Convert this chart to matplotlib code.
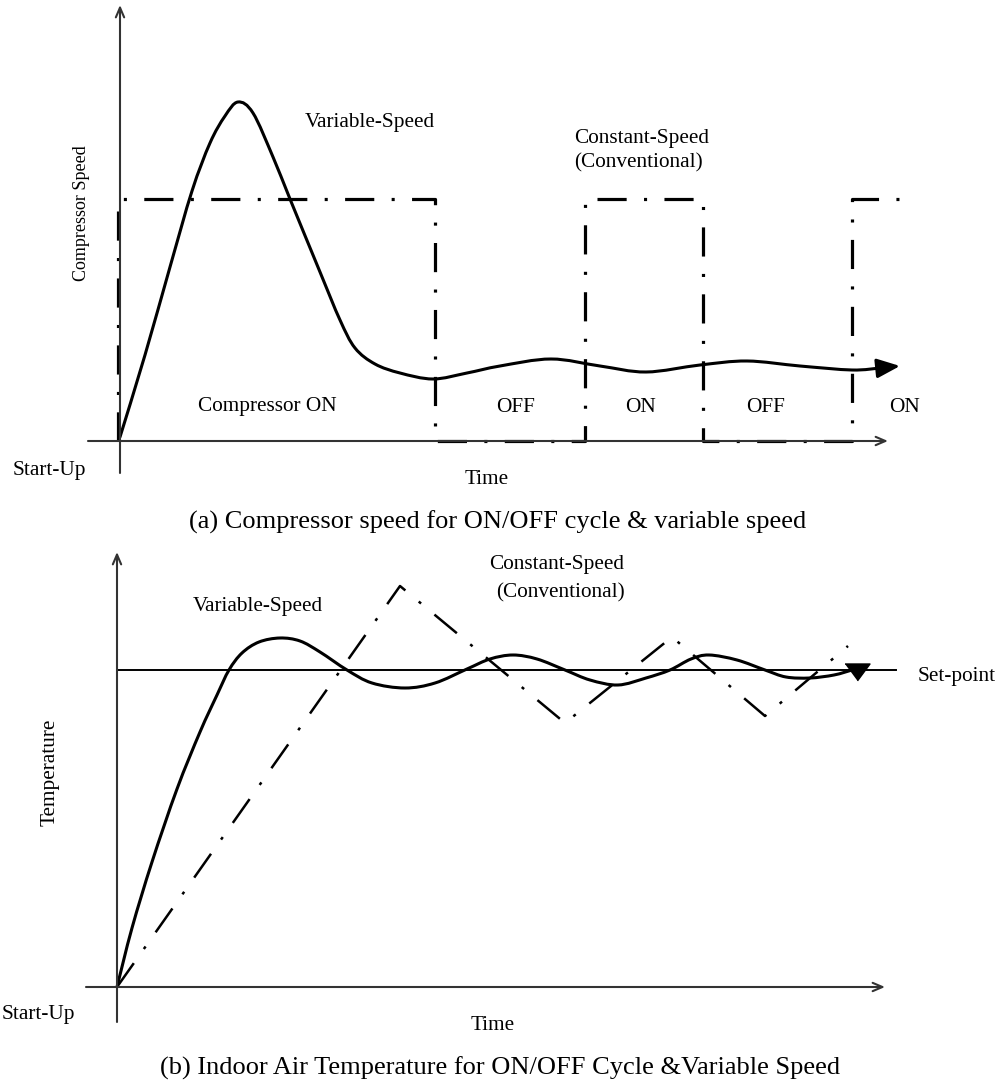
import matplotlib
matplotlib.use('Agg')
import matplotlib.pyplot as plt
from matplotlib.path import Path
from matplotlib.patches import PathPatch

plt.rcParams['font.family'] = ['Liberation Serif', 'DejaVu Serif']
plt.rcParams['lines.scale_dashes'] = False

# ---------------- Panel (a): compressor speed ----------------
# variable-speed compressor (time units, speed units)
var_a_t = [0.0, 2.5, 5.0, 7.2, 9.0, 10.5, 11.8, 13.3, 15.3, 17.0, 20.0, 22.0, 23.5, 25.5,
           28.0, 31.3, 34.7, 38.0, 43.1, 48.0, 52.6, 58.0, 62.7, 68.0, 73.2, 76.0, 78.0]
var_a_v = [0.4, 8.6, 17.4, 25.0, 29.8, 32.5, 33.9, 32.8, 28.4, 24.2, 16.9, 12.1, 9.3, 7.7,
           6.8, 6.2, 6.8, 7.5, 8.2, 7.5, 6.9, 7.6, 8.0, 7.5, 7.1, 7.3, 7.5]
# constant-speed (ON/OFF) compressor
const_a_t = [-0.2, -0.2, 31.5, 31.5, 46.5, 46.5, 58.3, 58.3, 73.2, 73.2, 78.3]
const_a_v = [0.0, 24.2, 24.2, 0.0, 0.0, 24.2, 24.2, 0.0, 0.0, 24.2, 24.2]
state_labels = ['Compressor ON', 'OFF', 'ON', 'OFF', 'ON']
state_t = [14.7, 39.6, 52.0, 64.6, 78.5]

# ---------------- Panel (b): indoor temperature ----------------
var_b_t = [0.0, 1.5, 3.5, 6.0, 8.3, 10.0, 11.2, 12.5, 14.2, 16.3, 18.3, 20.3, 23.0, 25.5,
           28.8, 31.8, 35.0, 37.3, 39.6, 42.0, 44.8, 47.3, 50.1, 52.9, 55.3, 57.4, 59.2,
           62.0, 64.8, 66.9, 69.3, 71.7, 73.5]
var_b_T = [0.0, 5.9, 12.5, 19.8, 25.5, 29.2, 31.7, 33.4, 34.5, 34.9, 34.6, 33.5, 31.7, 30.4,
           29.9, 30.4, 31.8, 32.8, 33.2, 32.8, 31.7, 30.7, 30.2, 30.9, 31.7, 32.8, 33.2,
           32.7, 31.7, 31.0, 30.9, 31.2, 31.7]
var_b_arrow = (74.0, 31.6)
const_b_t = [0.0, 28.3, 44.8, 55.5, 64.8, 73.1]
const_b_T = [0.0, 40.1, 26.4, 35.0, 27.1, 34.1]
setpoint = 31.7
setpoint_end = 77.9

# ---------------- layout ----------------
W, H = 998, 1082
fig = plt.figure(figsize=(W / 100, H / 100), dpi=100)
PX = 10.0  # pixels per data unit


def make_axes(top_px, bot_px, ox, oy):
    ax = fig.add_axes([0, 1 - bot_px / H, 1, (bot_px - top_px) / H])
    ax.set_xlim((0 - ox) / PX, (W - ox) / PX)
    ax.set_ylim((oy - bot_px) / PX, (oy - top_px) / PX)
    ax.axis('off')
    return ax


def smooth_curve(ax, xs, ys, **kw):
    """Draw a smooth curve through the given points (Catmull-Rom as cubic Beziers)."""
    pts = list(zip(xs, ys))
    n = len(pts)
    verts = [pts[0]]
    codes = [Path.MOVETO]
    for i in range(n - 1):
        p0 = pts[max(i - 1, 0)]
        p1 = pts[i]
        p2 = pts[i + 1]
        p3 = pts[min(i + 2, n - 1)]
        c1 = (p1[0] + (p2[0] - p0[0]) / 6.0, p1[1] + (p2[1] - p0[1]) / 6.0)
        c2 = (p2[0] - (p3[0] - p1[0]) / 6.0, p2[1] - (p3[1] - p1[1]) / 6.0)
        verts += [c1, c2, p2]
        codes += [Path.CURVE4] * 3
    patch = PathPatch(Path(verts, codes), fill=False, **kw)
    ax.add_patch(patch)


axc = '#333333'
dashdot = (0, (21, 12.5, 2.2, 12.5))
fs = 15.3
axis_arrow = dict(arrowstyle='->,head_length=0.7,head_width=0.3', lw=1.5,
                  color=axc, shrinkA=0, shrinkB=0)

# ===== Panel (a) =====
ax = make_axes(0, 540, 120, 441)
ax.annotate('', xy=(76.8, 0), xytext=(-3.2, 0), arrowprops=axis_arrow)
ax.annotate('', xy=(0, 43.6), xytext=(0, -3.2), arrowprops=axis_arrow)
ax.plot(const_a_t, const_a_v, color='black', lw=2.3, linestyle=dashdot,
        dash_capstyle='butt', solid_joinstyle='miter')
smooth_curve(ax, var_a_t[:-1], var_a_v[:-1], edgecolor='black', lw=2.2,
             capstyle='round', joinstyle='round')
ax.annotate('', xy=(var_a_t[-1], var_a_v[-1]), xytext=(var_a_t[-2], var_a_v[-2]),
            arrowprops=dict(arrowstyle='-|>,head_length=1.0,head_width=0.42', lw=2.2,
                            color='black', shrinkA=0, shrinkB=0, mutation_scale=14))
ax.text(25.0, 31.8, 'Variable-Speed', fontsize=fs, ha='center', va='center')
ax.text(45.4, 30.3, 'Constant-Speed', fontsize=fs, ha='left', va='center')
ax.text(45.4, 27.8, '(Conventional)', fontsize=fs, ha='left', va='center')
for lab, tt in zip(state_labels, state_t):
    ax.text(tt, 3.4, lab, fontsize=fs, ha='center', va='center')
ax.text(-3.8, 22.8, 'Compressor Speed', fontsize=13, rotation=90, ha='center', va='center')
ax.text(-7.1, -2.9, 'Start-Up', fontsize=fs, ha='center', va='center')
ax.text(36.7, -3.9, 'Time', fontsize=fs, ha='center', va='center')

# ===== Panel (b) =====
bx = make_axes(540, 1082, 117, 987)
bx.annotate('', xy=(76.8, 0), xytext=(-3.1, 0), arrowprops=axis_arrow)
bx.annotate('', xy=(0, 43.5), xytext=(0, -3.5), arrowprops=axis_arrow)
bx.plot([0, setpoint_end], [setpoint, setpoint], color='black', lw=1.4)
bx.plot(const_b_t, const_b_T, color='black', lw=1.8, linestyle=dashdot,
        dash_capstyle='butt', solid_joinstyle='miter')
smooth_curve(bx, var_b_t, var_b_T, edgecolor='black', lw=2.2,
             capstyle='round', joinstyle='round')
bx.plot([var_b_arrow[0]], [var_b_arrow[1]], marker=[(-1, 0.6), (1, 0.6), (0, -0.75)],
        markersize=18, color='black', linestyle='none')
bx.text(44.0, 42.2, 'Constant-Speed', fontsize=fs, ha='center', va='center')
bx.text(44.3, 39.4, '(Conventional)', fontsize=fs, ha='center', va='center')
bx.text(14.1, 38.0, 'Variable-Speed', fontsize=fs, ha='center', va='center')
bx.text(80.1, 31.0, 'Set-point', fontsize=fs, ha='left', va='center')
bx.text(-6.7, 21.5, 'Temperature', fontsize=fs, rotation=90, ha='center', va='center')
bx.text(-11.5, -2.8, 'Start-Up', fontsize=fs, ha='left', va='center')
bx.text(37.6, -3.8, 'Time', fontsize=fs, ha='center', va='center')

# captions
fig.text(498 / W, 1 - 522 / H, '(a) Compressor speed for ON/OFF cycle & variable speed',
         fontsize=19, ha='center', va='center')
fig.text(500 / W, 1 - 1068 / H, '(b) Indoor Air Temperature for ON/OFF Cycle &Variable Speed',
         fontsize=19, ha='center', va='center')

fig.savefig('out.png', dpi=100)
